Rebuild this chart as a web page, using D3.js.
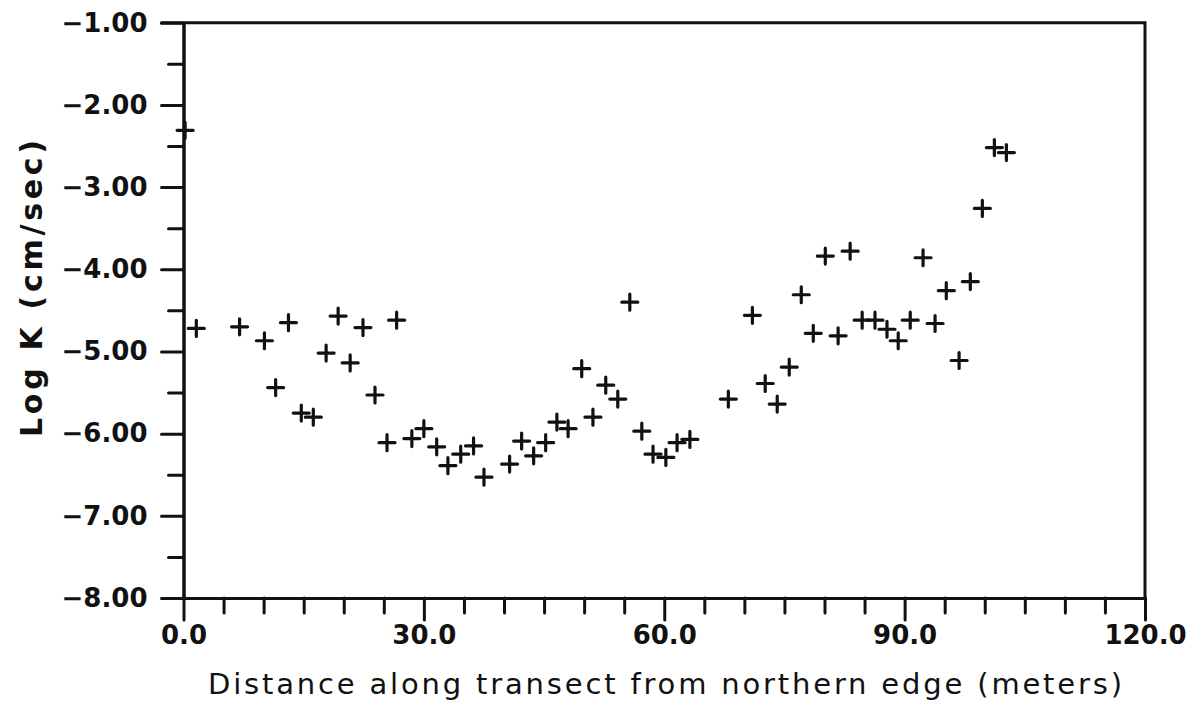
<!DOCTYPE html>
<html>
<head>
<meta charset="utf-8">
<script src="https://cdn.jsdelivr.net/npm/d3@7"></script>
<style>
  html, body { margin: 0; padding: 0; background: #fff; }
  svg { display: block; }
</style>
</head>
<body>
<svg id="chart" width="1186" height="702"></svg>
<script>
// Distance along transect (m)
const distance = [0.2, 1.6, 7.0, 10.1, 11.5, 13.1, 14.7, 16.2, 17.8, 19.3, 20.8, 22.4, 23.9, 25.4, 26.6,
  28.5, 30.0, 31.6, 33.0, 34.6, 36.2, 37.5, 40.7, 42.2, 43.7, 45.2, 46.6, 48.0, 49.7, 51.1,
  52.7, 54.2, 55.7, 57.2, 58.6, 60.2, 61.6, 63.2, 68.0, 71.0, 72.6, 74.1, 75.6, 77.1, 78.6,
  80.1, 81.7, 83.2, 84.7, 86.3, 87.8, 89.2, 90.7, 92.3, 93.8, 95.2, 96.8, 98.2, 99.7, 101.2, 102.7];
// Log K (cm/sec)
const logK = [-2.31, -4.72, -4.70, -4.87, -5.44, -4.65, -5.75, -5.80, -5.02, -4.57, -5.14, -4.71, -5.53, -6.11, -4.62,
  -6.06, -5.94, -6.16, -6.39, -6.25, -6.15, -6.53, -6.37, -6.09, -6.27, -6.11, -5.86, -5.94, -5.21, -5.80,
  -5.41, -5.58, -4.40, -5.97, -6.25, -6.29, -6.11, -6.07, -5.58, -4.56, -5.39, -5.64, -5.19, -4.31, -4.78,
  -3.84, -4.81, -3.78, -4.62, -4.62, -4.73, -4.87, -4.62, -3.86, -4.66, -4.26, -5.11, -4.15, -3.26, -2.52, -2.58];

const xMajorTicks = [0, 30, 60, 90, 120];
const xMinorTicks = [5, 10, 15, 20, 25, 35, 40, 45, 50, 55, 65, 70, 75, 80, 85, 95, 100, 105, 110, 115];
const yMajorTicks = [-8, -7, -6, -5, -4, -3, -2, -1];
const yMinorTicks = [-7.5, -6.5, -5.5, -4.5, -3.5, -2.5, -1.5];
const xTitle = "Distance along transect from northern edge (meters)";
const yTitle = "Log K (cm/sec)";

const svg = d3.select("#chart");
const x = d3.scaleLinear().domain([0, 120]).range([183.5, 1145]);
const y = d3.scaleLinear().domain([-8, -1]).range([598, 22.7]);

const ink = "#111";
const font = "'DejaVu Sans', sans-serif";

// frame (top and right)
svg.append("path")
  .attr("d", `M${x(0) - 22},${y(-1)} H${x(120)} V${y(-8)}`)
  .attr("fill", "none").attr("stroke", ink).attr("stroke-width", 3).attr("stroke-linecap", "round");

function styleAxis(g) {
  g.select(".domain").attr("stroke", ink).attr("stroke-width", 3);
  g.selectAll(".tick line").attr("stroke", ink).attr("stroke-width", 3).attr("stroke-linecap", "round");
  g.selectAll(".tick text").attr("fill", ink).attr("font-family", font).attr("font-weight", "bold").attr("font-size", 26);
}

// X axis
const gxMinor = svg.append("g").attr("transform", `translate(0,${y(-8)})`)
  .call(d3.axisBottom(x).tickValues(xMinorTicks).tickSize(15).tickSizeOuter(0).tickFormat(""));
styleAxis(gxMinor);
const gx = svg.append("g").attr("transform", `translate(0,${y(-8)})`)
  .call(d3.axisBottom(x).tickValues(xMajorTicks).tickSize(22).tickSizeOuter(0).tickPadding(6).tickFormat(d3.format(".1f")));
styleAxis(gx);

// Y axis
const gyMinor = svg.append("g").attr("transform", `translate(${x(0)},0)`)
  .call(d3.axisLeft(y).tickValues(yMinorTicks).tickSize(15).tickSizeOuter(0).tickFormat(""));
styleAxis(gyMinor);
const gy = svg.append("g").attr("transform", `translate(${x(0)},0)`)
  .call(d3.axisLeft(y).tickValues(yMajorTicks).tickSize(22).tickSizeOuter(0).tickPadding(14).tickFormat(d3.format(".2f")));
styleAxis(gy);

// Axis titles
svg.append("text")
  .attr("x", 208).attr("y", 694)
  .attr("font-family", font).attr("font-size", 29).attr("fill", ink)
  .attr("textLength", 914).attr("lengthAdjust", "spacing")
  .text(xTitle);

svg.append("text")
  .attr("transform", "translate(42,437) rotate(-90)")
  .attr("font-family", font).attr("font-size", 30).attr("font-weight", "bold").attr("fill", ink)
  .attr("textLength", 297).attr("lengthAdjust", "spacing")
  .text(yTitle);

// Plus markers
const arm = 8;
svg.append("g").selectAll("path.pt")
  .data(distance.map((d, i) => [d, logK[i]]))
  .join("path")
  .attr("class", "pt")
  .attr("d", d => {
    const cx = x(d[0]), cy = y(d[1]);
    return `M${cx - arm},${cy} H${cx + arm} M${cx},${cy - arm} V${cy + arm}`;
  })
  .attr("fill", "none").attr("stroke", ink).attr("stroke-width", 3.2).attr("stroke-linecap", "round");
</script>
</body>
</html>
